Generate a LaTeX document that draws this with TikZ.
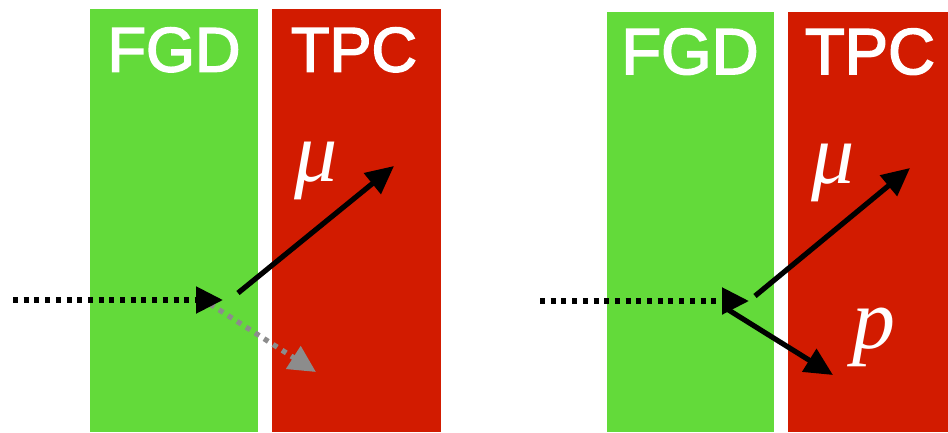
\documentclass[tikz,border=0pt]{standalone}
\usepackage{fontspec}
\setmainfont{Liberation Serif}
\newfontfamily\labfont[FakeBold=2.5]{Liberation Sans}
\usetikzlibrary{arrows.meta}
\definecolor{fgdgreen}{RGB}{99,218,58}
\definecolor{tpcred}{RGB}{210,27,0}
\definecolor{ghost}{RGB}{140,140,140}
\tikzset{
  fgdbox/.style={fill=fgdgreen, draw=none},
  tpcbox/.style={fill=tpcred, draw=none},
  boxlabel/.style={text=white, font=\labfont\fontsize{63}{63}\selectfont, inner sep=0pt, anchor=base},
  boxlabelb/.style={boxlabel, font=\labfont\fontsize{65}{65}\selectfont},
  partlabel/.style={text=white, font=\itshape\fontsize{86}{86}\selectfont, inner sep=0pt, anchor=base},
  beam/.style={line width=5.2pt, dash pattern=on 5pt off 5.7pt, -{Triangle[length=27pt,width=26pt]}},
  track/.style={line width=5.2pt, -{Triangle[length=28pt,width=26pt]}},
  ghosttrack/.style={ghost, line width=5.2pt, dash pattern=on 5pt off 5.7pt, -{Triangle[length=27pt,width=26pt]}},
}
\begin{document}
\begin{tikzpicture}[x=1pt,y=-1pt]
\useasboundingbox (0,0) rectangle (948,432);
% left panel
\fill[fgdbox] (90,9) rectangle (258,432);
\fill[tpcbox] (272,9) rectangle (441,432);
\node[boxlabel] (fgdA) at (174,71.5) {FGD};
\node[boxlabel] (tpcA) at (354,71.5) {TPC};
\node[partlabel] (muA) at (316,181) {μ};
\coordinate (beamA0) at (13,300);
\coordinate (vtxA) at (223,300);
\coordinate (muA0) at (238,293);
\coordinate (muA1) at (394,166);
\coordinate (ghA0) at (210,304);
\coordinate (ghA1) at (316,372);
\draw[ghosttrack] (ghA0) -- (ghA1);
\draw[beam] (beamA0) -- (vtxA);
\draw[track] (muA0) -- (muA1);
% right panel
\fill[fgdbox] (607,12) rectangle (774,432);
\fill[tpcbox] (788,12) rectangle (948,432);
\node[boxlabelb] (fgdB) at (690,74) {FGD};
\node[boxlabelb] (tpcB) at (870,74) {TPC};
\node[partlabel] (muB) at (833,183) {μ};
\node[partlabel] (pB) at (874,348) {p};
\coordinate (beamB0) at (540,301);
\coordinate (vtxB) at (749,301);
\coordinate (muB0) at (755,296);
\coordinate (muB1) at (910,168);
\coordinate (pB0) at (727,309);
\coordinate (pB1) at (833,375);
\draw[beam] (beamB0) -- (vtxB);
\draw[track] (muB0) -- (muB1);
\draw[track] (pB0) -- (pB1);
\end{tikzpicture}
\end{document}
